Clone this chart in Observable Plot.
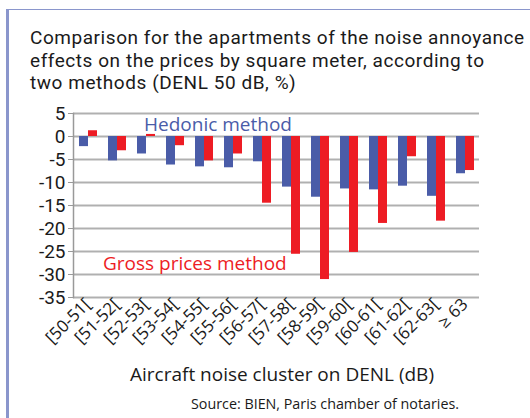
<!DOCTYPE html>
<html>
<head>
<meta charset="utf-8">
<script src="https://cdn.jsdelivr.net/npm/d3@7"></script>
<script src="https://cdn.jsdelivr.net/npm/@observablehq/plot@0.6"></script>
<style>
  html, body { margin: 0; padding: 0; background: #fff; }
  body { width: 530px; height: 418px; position: relative; overflow: hidden; font-family: "Open Sans", sans-serif; }
  #frame { position: absolute; left: 6px; top: 9px; width: 530px; height: 420px; border-left: 3px solid #8a96cc; border-top: 1px solid #8a96cc; }
  #title { position: absolute; left: 30px; top: 27px; font-family: Roboto, sans-serif; font-size: 19px; letter-spacing: 0.55px; color: #1a1a1a; white-space: nowrap; }
  #title div { height: 22.7px; line-height: 22.7px; }
  #chart { position: absolute; left: 0; top: 0; }
  #xlabel { position: absolute; left: 0; width: 564px; text-align: center; top: 361px; font-size: 19px; color: #1a1a1a; }
  #source { position: absolute; right: 71px; top: 394px; font-size: 14.3px; color: #1a1a1a; }
</style>
</head>
<body>
<div id="frame"></div>
<div id="title"><div>Comparison for the apartments of the noise annoyance</div><div>effects on the prices by square meter, according to</div><div>two methods (DENL 50 dB, %)</div></div>
<div id="chart"></div>
<div id="xlabel">Aircraft noise cluster on DENL (dB)</div>
<div id="source">Source: BIEN, Paris chamber of notaries.</div>
<script>
const categories = ["[50-51[", "[51-52[", "[52-53[", "[53-54[", "[54-55[", "[55-56[", "[56-57[", "[57-58[", "[58-59[", "[59-60[", "[60-61[", "[61-62[", "[62-63[", "≥ 63"];
const series = ["Hedonic method", "Gross prices method"];
const hedonic = [-2.2, -5.3, -3.8, -6.2, -6.6, -6.8, -5.5, -11.0, -13.2, -11.4, -11.6, -10.8, -13.0, -8.1];
const gross = [1.25, -3.1, 0.45, -2.0, -5.3, -3.8, -14.5, -25.6, -31.1, -25.2, -18.9, -4.4, -18.4, -7.4];
const yTicks = [5, 0, -5, -10, -15, -20, -25, -30, -35];
const colors = ["#4a5ca8", "#ed1c24"];

const data = [];
categories.forEach((c, i) => {
  data.push({cat: c, method: series[0], value: hedonic[i]});
  data.push({cat: c, method: series[1], value: gross[i]});
});

const chart = Plot.plot({
  width: 530,
  height: 360,
  marginTop: 113,
  marginBottom: 63,
  marginLeft: 72,
  marginRight: 50,
  style: {fontFamily: "Open Sans, sans-serif", color: "#1a1a1a", background: "transparent"},
  fx: {domain: categories, paddingInner: 0, paddingOuter: 0, label: null},
  x: {domain: series, paddingInner: 0, paddingOuter: 0.56, axis: null},
  y: {domain: [-35, 5], label: null},
  color: {domain: series, range: colors},
  marks: [
    Plot.gridY(yTicks, {stroke: "#b0b0b0", strokeOpacity: 1, strokeWidth: 2}),
    Plot.barY(data, {fx: "cat", x: "method", y: "value", fill: "method"}),
    Plot.axisY(yTicks, {tickFormat: d => String(d), fontSize: 19, fontFamily: "Roboto, sans-serif", tickSize: 5, tickPadding: 3, stroke: "#999", label: null}),
    Plot.axisFx({anchor: "bottom", tickRotate: -45, fontSize: 17, tickSize: 0, tickPadding: 4, label: null}),
    Plot.frame({anchor: "left", facetAnchor: "left", stroke: "#999", strokeWidth: 1.5}),
    Plot.text([{fx: categories[2], label: series[0]}], {fx: "fx", text: "label", y: 2.5, textAnchor: "start", dx: -2, fontSize: 19, fill: colors[0]}),
    Plot.text([{fx: categories[1], label: series[1]}], {fx: "fx", text: "label", y: -27.6, textAnchor: "start", dx: -14, fontSize: 19, fill: colors[1]})
  ]
});
document.getElementById("chart").appendChild(chart);
</script>
</body>
</html>
